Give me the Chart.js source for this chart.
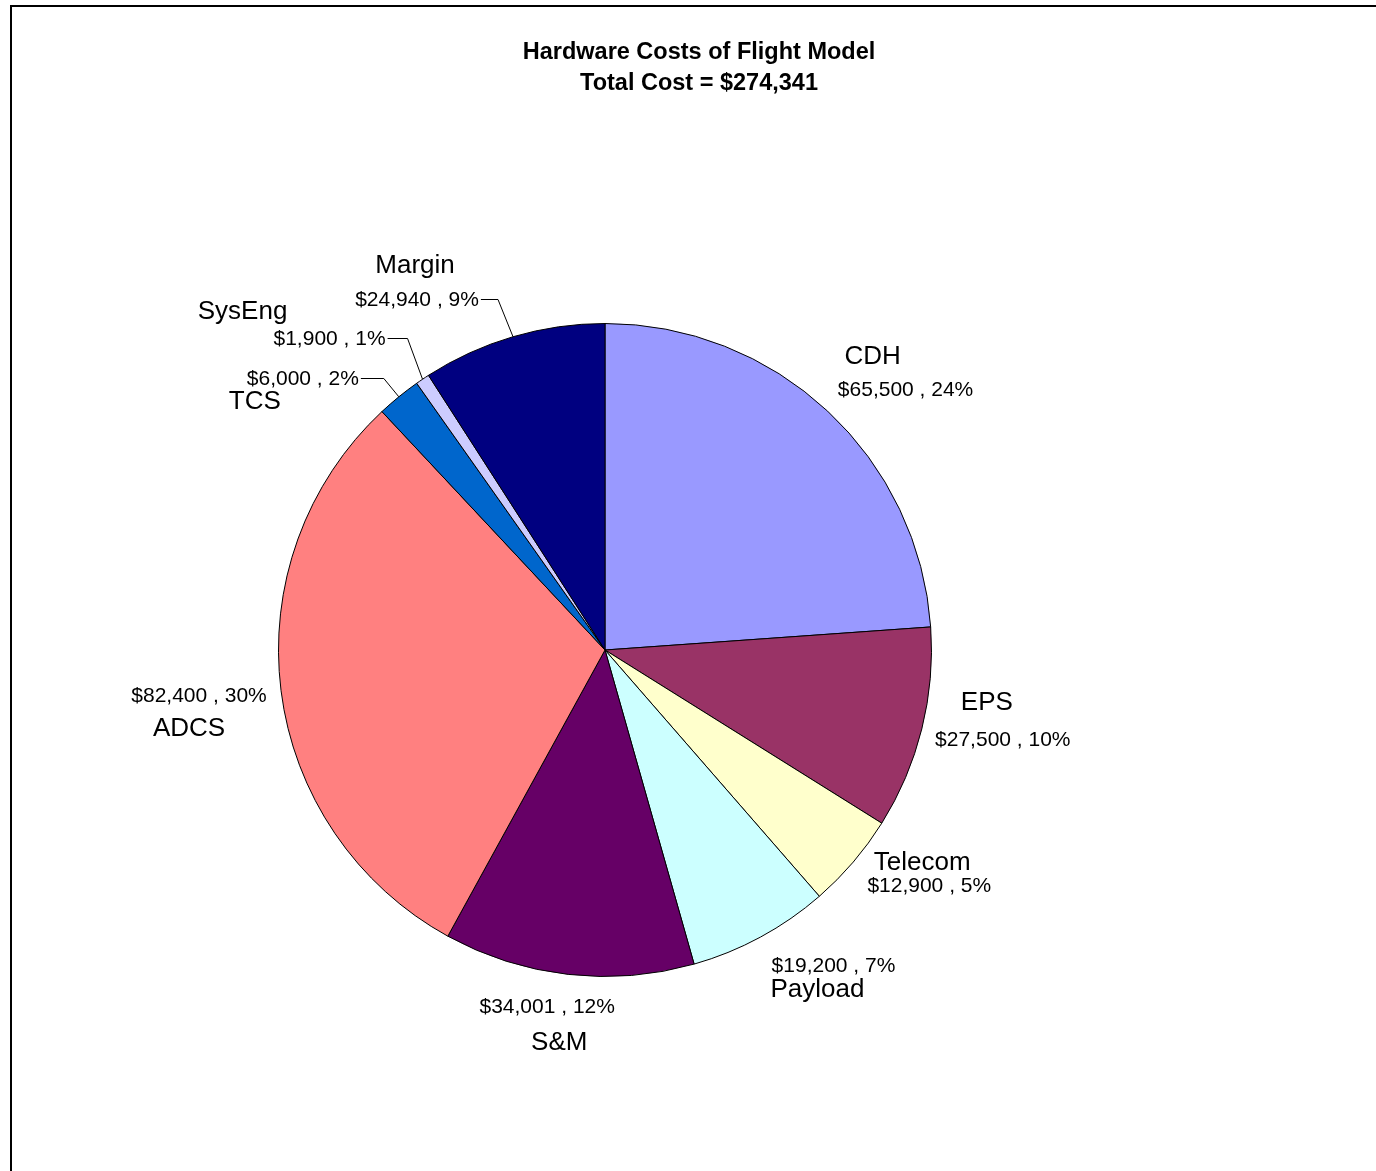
<!DOCTYPE html>
<html>
<head>
<meta charset="utf-8">
<script src="https://cdn.jsdelivr.net/npm/chart.js@4/dist/chart.umd.min.js"></script>
<style>
    html, body { margin: 0; padding: 0; background: #fff; overflow: hidden; }
    #frame {
        position: absolute; left: 10px; top: 5px;
        width: 1500px; height: 1300px;
        border: 2px solid #000; pointer-events: none;
    }
    #wrap { position: absolute; left: 0; top: 0; width: 1376px; height: 1171px; }
</style>
</head>
<body>
<div id="wrap"><canvas id="costChart"></canvas></div>
<div id="frame"></div>
<script>
// hardware cost breakdown, slices clockwise from 12 o'clock
var categories = ['CDH', 'EPS', 'Telecom', 'Payload', 'S&M', 'ADCS', 'TCS', 'SysEng', 'Margin'];
var costs = [65500, 27500, 12900, 19200, 34001, 82400, 6000, 1900, 24940];
var sliceColors = ['#9999FF', '#993366', '#FFFFCC', '#CCFFFF', '#660066', '#FF8080', '#0066CC', '#CCCCFF', '#000080'];
var titleLines = ['Hardware Costs of Flight Model', 'Total Cost = $274,341'];

var FONT = '"Liberation Sans", Arial, sans-serif';

// where each label sits, relative to the middle of its slice's outer edge
// name: [dx, dy], value: [dx, dy], leader: draw a line back to the slice
var labelPlacement = [
    {name: [45, -54], value: [78, -21]},
    {name: [65, -26], value: [81, 11]},
    {name: [69, 1], value: [76, 24]},
    {name: [57, 53], value: [73, 29]},
    {name: [-9, 68], value: [-21, 33]},
    {name: [-92, 38], value: [-82, 6]},
    {name: [-144, 5], value: [-96, -18], leader: true},
    {name: [-180, -67], value: [-93, -40], leader: true},
    {name: [-98, -71], value: [-96, -37], leader: true}
];

var total = costs.reduce(function (a, b) { return a + b; }, 0);

var formatMoney = function (v) {
    return '$' + v.toLocaleString('en-US');
};

var sliceLabels = {
    id: 'sliceLabels',
    afterDraw: function (chart) {
        var ctx = chart.ctx;
        var meta = chart.getDatasetMeta(0);

        ctx.save();
        ctx.fillStyle = '#000';
        ctx.textAlign = 'center';
        ctx.textBaseline = 'middle';

        // title
        ctx.font = 'bold 23.5px ' + FONT;
        ctx.fillText(titleLines[0], 699, 53);
        ctx.fillText(titleLines[1], 699, 84);

        meta.data.forEach(function (arc, i) {
            var p = arc.getProps(['x', 'y', 'startAngle', 'endAngle', 'outerRadius'], true);
            var mid = (p.startAngle + p.endAngle) / 2;
            var ex = p.x + Math.cos(mid) * p.outerRadius;
            var ey = p.y + Math.sin(mid) * p.outerRadius;
            var place = labelPlacement[i];
            var value = costs[i];
            var text = formatMoney(value) + ' , ' + Math.round(value / total * 100) + '%';

            ctx.font = '26px ' + FONT;
            ctx.fillText(categories[i], ex + place.name[0], ey + place.name[1]);

            ctx.font = '21px ' + FONT;
            var vx = ex + place.value[0];
            var vy = ey + place.value[1];
            ctx.fillText(text, vx, vy);

            if (place.leader) {
                var w = ctx.measureText(text).width;
                var startX = vx + w / 2 + 2;
                var ly = Math.round(vy) - 0.5;
                ctx.beginPath();
                ctx.lineWidth = 1;
                ctx.strokeStyle = '#000';
                ctx.moveTo(startX, ly);
                ctx.lineTo(ex - 15, ly);
                ctx.lineTo(ex, ey);
                ctx.stroke();
            }
        });
        ctx.restore();
    }
};

var chart = new Chart(document.getElementById('costChart'), {
    type: 'pie',
    data: {
        labels: categories,
        datasets: [{
            data: costs,
            backgroundColor: sliceColors,
            borderColor: '#000',
            borderWidth: 1
        }]
    },
    options: {
        responsive: true,
        maintainAspectRatio: false,
        animation: false,
        layout: {
            padding: {left: 278, right: 444, top: 323, bottom: 194}
        },
        plugins: {
            legend: {display: false},
            tooltip: {enabled: false},
            title: {display: false}
        }
    },
    plugins: [sliceLabels]
});
</script>
</body>
</html>
